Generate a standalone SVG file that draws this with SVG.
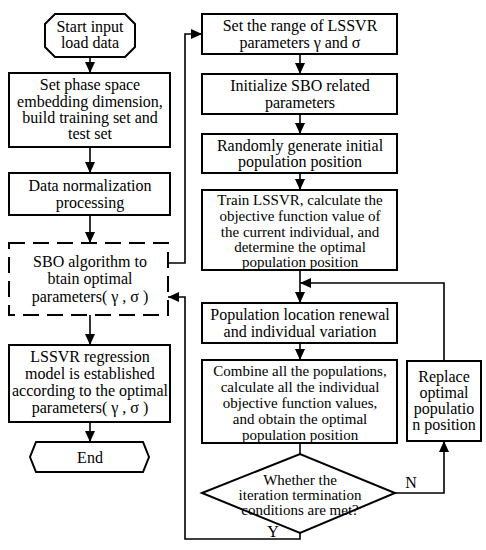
<svg xmlns="http://www.w3.org/2000/svg" width="486" height="550" viewBox="0 0 486 550">
<defs>
<marker id="ah" markerUnits="userSpaceOnUse" markerWidth="12" markerHeight="10" refX="11" refY="5" orient="auto">
<path d="M0,0 L11,5 L0,10 Z" fill="#000"/>
</marker>
<style>
.b{fill:#fff;stroke:#000;stroke-width:2}
.d{fill:#fff;stroke:#000;stroke-width:2;stroke-dasharray:16,8}
.t{font-family:"Liberation Serif","Times New Roman",serif;font-size:16px;fill:#000;text-anchor:middle}
.s{font-size:15px}
.c{fill:none;stroke:#000;stroke-width:1.6}
.a{marker-end:url(#ah)}
</style>
</defs>
<rect width="486" height="550" fill="#fff"/>
<g id="connectors">
<line class="c a" x1="90" y1="57" x2="90" y2="73"/>
<line class="c a" x1="90" y1="147" x2="90" y2="173"/>
<line class="c a" x1="90" y1="215" x2="90" y2="243"/>
<line class="c a" x1="90" y1="315" x2="90" y2="345"/>
<line class="c a" x1="90" y1="422" x2="90" y2="442"/>
<polyline class="c a" points="168,263 185,263 185,34 202,34"/>
<line class="c a" x1="300" y1="54" x2="300" y2="74"/>
<line class="c a" x1="300" y1="114" x2="300" y2="134"/>
<line class="c a" x1="300" y1="173" x2="300" y2="190"/>
<line class="c a" x1="300" y1="270" x2="300" y2="303"/>
<line class="c a" x1="300" y1="343" x2="300" y2="360"/>
<line class="c" x1="300" y1="443" x2="300" y2="454"/>
<polyline class="c a" points="444,361 444,283 300,283"/>
<polyline class="c a" points="395,493 444,493 444,441"/>
<polyline class="c a" points="300,533 300,539 185,539 185,297 168,297"/>
<text class="t" x="411" y="488" font-size="15">N</text>
<text class="t" x="273" y="537" font-size="15">Y</text>
</g>
<g id="start">
<polygon class="b" points="55,14 125,14 135,24 135,47 125,57 55,57 45,47 45,24"/>
<text class="t" x="90" y="32">Start input</text>
<text class="t" x="90" y="48">load data</text>
</g>
<g id="phase">
<rect class="b" x="9" y="73" width="161" height="74"/>
<text class="t" x="90" y="90">Set phase space</text>
<text class="t" x="90" y="107">embedding dimension,</text>
<text class="t" x="90" y="123">build training set and</text>
<text class="t" x="90" y="139">test set</text>
</g>
<g id="normalize">
<rect class="b" x="9" y="173" width="161" height="42"/>
<text class="t" x="90" y="191">Data normalization</text>
<text class="t" x="90" y="208">processing</text>
</g>
<g id="sbo">
<rect class="d" x="9" y="243" width="159" height="72"/>
<text class="t" x="90" y="267">SBO algorithm to</text>
<text class="t" x="90" y="284">btain optimal</text>
<text class="t" x="90" y="302">parameters( γ , σ )</text>
</g>
<g id="lssvr">
<rect class="b" x="9" y="345" width="161" height="77"/>
<text class="t" x="90" y="362">LSSVR regression</text>
<text class="t" x="90" y="379">model is established</text>
<text class="t" x="90" y="396">according to the optimal</text>
<text class="t" x="90" y="413">parameters( γ , σ )</text>
</g>
<g id="end">
<polygon class="b" points="36,442 143,442 149,457 143,472 36,472 30,457"/>
<text class="t" x="90" y="463">End</text>
</g>
<g id="range">
<rect class="b" x="202" y="14" width="195" height="40"/>
<text class="t" x="300" y="31">Set the range of LSSVR</text>
<text class="t" x="300" y="48">parameters  γ  and  σ</text>
</g>
<g id="init">
<rect class="b" x="202" y="74" width="195" height="40"/>
<text class="t" x="300" y="91">Initialize SBO related</text>
<text class="t" x="300" y="108">parameters</text>
</g>
<g id="random">
<rect class="b" x="202" y="134" width="195" height="39"/>
<text class="t" x="300" y="151">Randomly generate initial</text>
<text class="t" x="300" y="167">population position</text>
</g>
<g id="train">
<rect class="b" x="202" y="190" width="195" height="80"/>
<text class="t s" x="300" y="205">Train LSSVR, calculate the</text>
<text class="t s" x="300" y="221">objective function value of</text>
<text class="t s" x="300" y="237">the current individual, and</text>
<text class="t s" x="300" y="252">determine the optimal</text>
<text class="t s" x="300" y="267">population position</text>
</g>
<g id="update">
<rect class="b" x="202" y="303" width="195" height="40"/>
<text class="t" x="300" y="320">Population location renewal</text>
<text class="t" x="300" y="337">and individual variation</text>
</g>
<g id="combine">
<rect class="b" x="202" y="360" width="195" height="83"/>
<text class="t s" x="300" y="376">Combine all the populations,</text>
<text class="t s" x="300" y="392">calculate all the individual</text>
<text class="t s" x="300" y="408">objective function values,</text>
<text class="t s" x="300" y="424">and obtain the optimal</text>
<text class="t s" x="300" y="440">population position</text>
</g>
<g id="decision">
<polygon class="b" points="202,493 300,454 395,493 300,533"/>
<text class="t s" x="300" y="485">Whether the</text>
<text class="t s" x="300" y="500">iteration termination</text>
<text class="t s" x="300" y="515">conditions are met?</text>
</g>
<g id="replace">
<rect class="b" x="407" y="361" width="74" height="80"/>
<text class="t" x="444" y="382">Replace</text>
<text class="t" x="444" y="398">optimal</text>
<text class="t" x="444" y="414">populatio</text>
<text class="t" x="444" y="430">n position</text>
</g>
</svg>
